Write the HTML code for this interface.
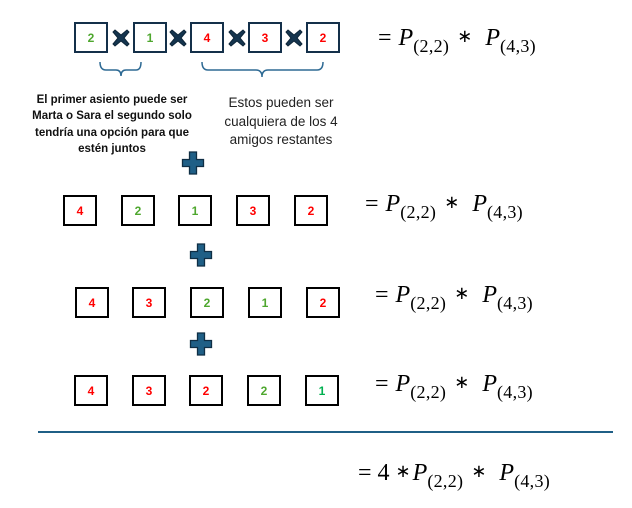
<!DOCTYPE html>
<html><head><meta charset="utf-8"><style>
body{margin:0;width:632px;height:508px;background:#fff;position:relative;overflow:hidden;font-family:"Liberation Sans",sans-serif}
.b{position:absolute;box-sizing:border-box;width:34px;height:31px;border:2px solid #000;font:bold 12px "Liberation Sans",sans-serif;display:flex;align-items:center;justify-content:center}
.t{border-color:#14304a}
.g{color:#4ea72e}.r{color:#ff0000}.gg{color:#00b050}
.f{position:absolute;font-family:"Liberation Serif",serif;font-size:24px;white-space:nowrap;color:#000}
.f i{font-style:italic;margin-left:7px}
.f sub{font-size:18px;vertical-align:-7px;font-style:normal;margin-left:0;letter-spacing:0.3px}
.f .s{display:inline-block;font-size:18px;margin:0 9px 0 8px;vertical-align:3px}
.f .s2{margin-right:13px}
.tx{position:absolute;text-align:center;white-space:nowrap}
svg{position:absolute;left:0;top:0}
</style></head><body>
<div class="b t g" style="left:74px;top:22px">2</div>
<div class="b t g" style="left:133px;top:22px">1</div>
<div class="b t r" style="left:190px;top:22px">4</div>
<div class="b t r" style="left:248px;top:22px">3</div>
<div class="b t r" style="left:306px;top:22px">2</div>

<div class="b r" style="left:63px;top:195px">4</div>
<div class="b g" style="left:121px;top:195px">2</div>
<div class="b g" style="left:178px;top:195px">1</div>
<div class="b r" style="left:236px;top:195px">3</div>
<div class="b r" style="left:294px;top:195px">2</div>

<div class="b r" style="left:75px;top:287px">4</div>
<div class="b r" style="left:132px;top:287px">3</div>
<div class="b g" style="left:190px;top:287px">2</div>
<div class="b g" style="left:248px;top:287px">1</div>
<div class="b r" style="left:306px;top:287px">2</div>

<div class="b r" style="left:74px;top:375px">4</div>
<div class="b r" style="left:132px;top:375px">3</div>
<div class="b r" style="left:189px;top:375px">2</div>
<div class="b g" style="left:247px;top:375px">2</div>
<div class="b gg" style="left:305px;top:375px">1</div>

<svg width="632" height="508">
<defs>
<g id="x"><path d="M-6,-8 L0,-3 L6,-8 L8,-6 L3,0 L8,6 L6,8 L0,3 L-6,8 L-8,6 L-3,0 L-8,-6Z" fill="#15354f" stroke="#0d2538" stroke-width="1"/></g>
<g id="p"><path d="M-3.5,-11 H3.5 V-3.5 H10.5 V3.5 H3.5 V11 H-3.5 V3.5 H-10.5 V-3.5 H-3.5Z" fill="#1f5f86" stroke="#0f2e44" stroke-width="1.3"/></g>
</defs>
<use href="#x" x="121" y="38"/><use href="#x" x="178" y="38"/><use href="#x" x="237" y="38"/><use href="#x" x="294" y="38"/>
<use href="#p" x="193" y="163"/><use href="#p" x="201" y="255"/><use href="#p" x="201" y="344"/>
<path d="M100,62 Q100,70 106,70 H116 Q121,70 121,76 Q121,70 126,70 H136 Q141,70 141,62" fill="none" stroke="#2e6a94" stroke-width="1.5"/>
<path d="M202,62 Q202,70 208,70 H256 Q262,70 262,77 Q262,70 268,70 H317 Q323,70 323,62" fill="none" stroke="#2e6a94" stroke-width="1.5"/>
<line x1="38" y1="432" x2="613" y2="432" stroke="#1f5f86" stroke-width="2"/>
</svg>

<div class="tx" style="left:20px;width:184px;top:92px;font:bold 11.5px/16.3px 'Liberation Sans',sans-serif;color:#111">El primer asiento puede ser<br>Marta o Sara el segundo solo<br>tendría una opción para que<br>estén juntos</div>
<div class="tx" style="left:211px;width:140px;top:94px;font:13.5px/18.5px 'Liberation Sans',sans-serif;color:#222">Estos pueden ser<br>cualquiera de los 4<br>amigos restantes</div>

<div class="f" style="left:378px;top:25px">=<i>P</i><sub>(2,2)</sub><span class="s s2">∗</span><i style="margin-left:0">P</i><sub>(4,3)</sub></div>
<div class="f" style="left:365px;top:191px">=<i>P</i><sub>(2,2)</sub><span class="s s2">∗</span><i style="margin-left:0">P</i><sub>(4,3)</sub></div>
<div class="f" style="left:375px;top:282px">=<i>P</i><sub>(2,2)</sub><span class="s s2">∗</span><i style="margin-left:0">P</i><sub>(4,3)</sub></div>
<div class="f" style="left:375px;top:371px">=<i>P</i><sub>(2,2)</sub><span class="s s2">∗</span><i style="margin-left:0">P</i><sub>(4,3)</sub></div>
<div class="f" style="left:358px;top:460px">= 4<span class="s" style="margin:0 2px 0 6px">∗</span><i style="margin-left:0">P</i><sub>(2,2)</sub><span class="s s2">∗</span><i style="margin-left:0">P</i><sub>(4,3)</sub></div>
</body></html>
